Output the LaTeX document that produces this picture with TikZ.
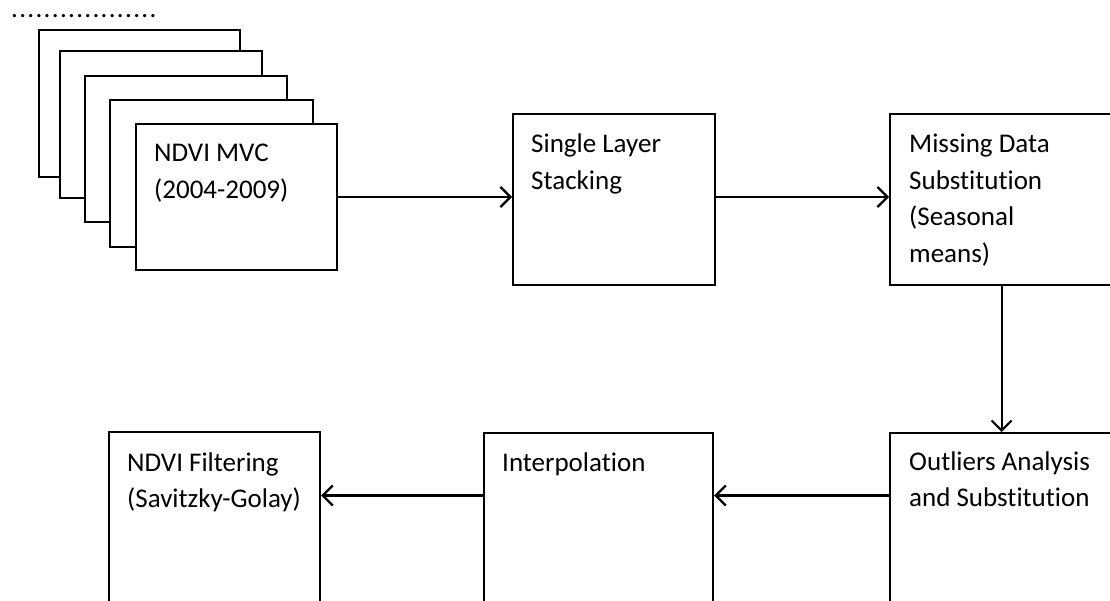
\documentclass[tikz,border=0pt]{standalone}
\usepackage{fontspec}
\setmainfont{Carlito}[Ligatures=NoCommon]
\usetikzlibrary{arrows.meta}
\newcommand{\onedot}{\makebox[8.15pt][l]{.}}
\newcommand{\sixdots}{\onedot\onedot\onedot\onedot\onedot\onedot}
\begin{document}
\begin{tikzpicture}[x=1pt,y=-1pt,
  box/.style={draw=black,fill=white,line width=2.2pt,rectangle,inner sep=0pt,anchor=north west},
  lbl/.style={anchor=base west,inner sep=0pt,font=\fontsize{27}{36.5}\selectfont},
  arr/.style={line width=2.2pt,-{Straight Barb[length=10pt,width=20pt,line width=2.2pt]}}]
\useasboundingbox (0,0) rectangle (1110,601);
\clip (0,0) rectangle (1110,601);
\node[lbl] (dots) at (11,18) {\sixdots\sixdots\sixdots};
% stacked layers
\node[box,minimum width=201pt,minimum height=147pt] (b1) at (38,29) {};
\node[box,minimum width=202pt,minimum height=147pt] (b2) at (59,50) {};
\node[box,minimum width=202pt,minimum height=146pt] (b3) at (84,75) {};
\node[box,minimum width=203pt,minimum height=147pt] (b4) at (109,99) {};
\node[box,minimum width=201pt,minimum height=146pt] (b5) at (135,123) {};
\node[lbl] (t5) at ([shift={(19,39)}]b5.north west) {\parbox[t]{190pt}{NDVI MVC\\(2004-2009)}};
% process boxes
\node[box,minimum width=202pt,minimum height=171pt] (single) at (512,113) {};
\node[lbl] (ts) at ([shift={(19,40)}]single.north west) {\parbox[t]{190pt}{Single Layer\\Stacking}};
\node[box,minimum width=223pt,minimum height=171pt] (miss) at (889,113) {};
\node[lbl] (tm) at ([shift={(20,40)}]miss.north west) {\parbox[t]{190pt}{Missing Data\\Substitution\\(Seasonal\\means)}};
\node[box,minimum width=240pt,minimum height=200pt] (outl) at (889,432) {};
\node[lbl] (to) at ([shift={(20,38)}]outl.north west) {\parbox[t]{220pt}{Outliers Analysis\\and Substitution}};
\node[box,minimum width=229pt,minimum height=200pt] (interp) at (483,432) {};
\node[lbl] (ti) at ([shift={(19,39)}]interp.north west) {\parbox[t]{200pt}{Interpolation}};
\node[box,minimum width=211pt,minimum height=200pt] (filt) at (108,431) {};
\node[lbl] (tf) at ([shift={(19,40)}]filt.north west) {\parbox[t]{200pt}{NDVI Filtering\\(Savitzky-Golay)}};
% connectors
\coordinate (r1) at (0,197);
\coordinate (r2) at (0,495.5);
\draw[arr] (b5.east |- r1) -- (single.west |- r1);
\draw[arr] (single.east |- r1) -- (miss.west |- r1);
\draw[arr] (miss.south) -- (outl.north -| miss.south);
\draw[arr] (outl.west |- r2) -- (interp.east |- r2);
\draw[arr] (interp.west |- r2) -- (filt.east |- r2);
\end{tikzpicture}
\end{document}
